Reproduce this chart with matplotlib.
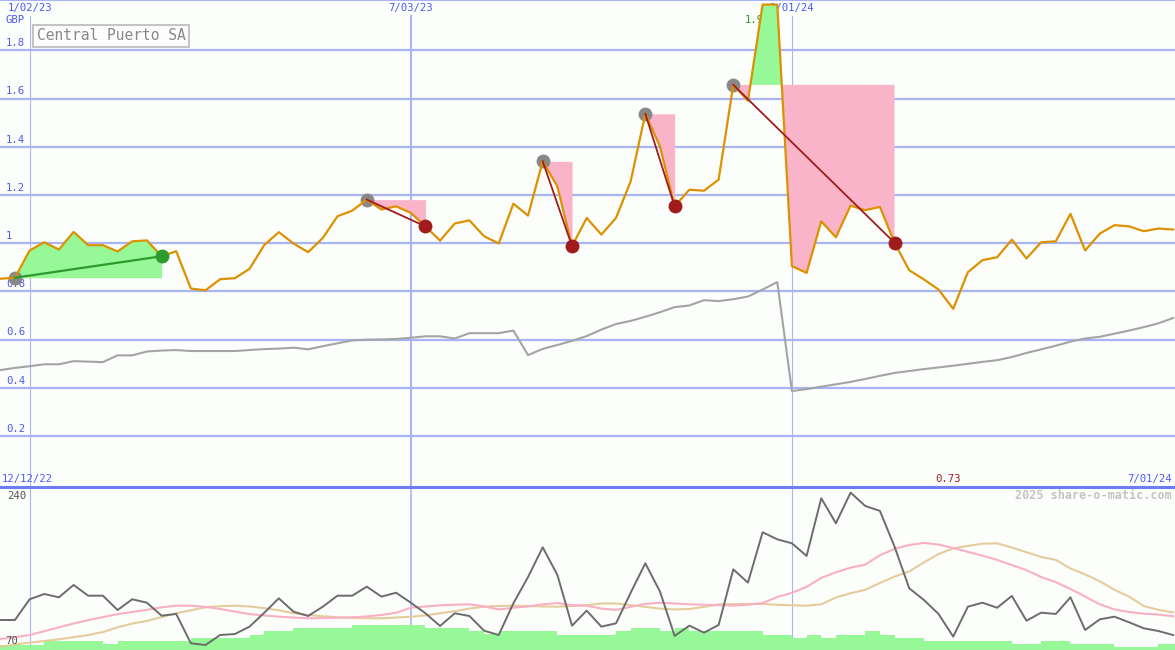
import numpy as np
import matplotlib.pyplot as plt

plt.rcParams['font.family'] = ['DejaVu Sans Mono']

# weekly data, index 0 = 12/19/22 ... index 80 = 7/01/24
price = [0.853, 0.857, 0.970, 1.004, 0.974, 1.047, 0.992, 0.992, 0.966, 1.008,
         1.012, 0.946, 0.967, 0.812, 0.805, 0.851, 0.855, 0.894, 0.992, 1.046,
         0.999, 0.963, 1.022, 1.112, 1.135, 1.181, 1.140, 1.153, 1.126, 1.070,
         1.011, 1.082, 1.095, 1.029, 0.999, 1.164, 1.115, 1.340, 1.236, 0.988,
         1.105, 1.036, 1.105, 1.257, 1.537, 1.402, 1.153, 1.222, 1.218, 1.264,
         1.657, 1.591, 1.990, 1.990, 0.905, 0.877, 1.091, 1.025, 1.156, 1.137,
         1.151, 1.002, 0.888, 0.850, 0.808, 0.728, 0.880, 0.930, 0.942, 1.015,
         0.937, 1.004, 1.008, 1.122, 0.970, 1.040, 1.075, 1.070, 1.050, 1.061,
         1.057]

relative = [0.474, 0.483, 0.490, 0.498, 0.498, 0.511, 0.509, 0.507, 0.535, 0.535,
            0.551, 0.555, 0.557, 0.553, 0.553, 0.553, 0.553, 0.557, 0.561, 0.563,
            0.567, 0.560, 0.573, 0.585, 0.597, 0.600, 0.601, 0.603, 0.608, 0.614,
            0.614, 0.605, 0.627, 0.627, 0.627, 0.638, 0.536, 0.562, 0.578, 0.595,
            0.615, 0.642, 0.665, 0.678, 0.695, 0.714, 0.735, 0.742, 0.764, 0.760,
            0.768, 0.779, 0.808, 0.839, 0.387, 0.395, 0.405, 0.415, 0.425, 0.437,
            0.450, 0.462, 0.470, 0.478, 0.485, 0.492, 0.500, 0.508, 0.515, 0.528,
            0.545, 0.560, 0.575, 0.592, 0.605, 0.612, 0.625, 0.638, 0.652, 0.668,
            0.690]

volume = [94.6, 94.6, 118.9, 125.1, 121.2, 135.7, 123.1, 123.1, 106.3, 118.9,
          114.9, 99.7, 101.7, 67.3, 65.3, 77.0, 78.2, 86.8, 103.0, 120.0,
          104.4, 99.3, 110.2, 123.1, 123.1, 133.7, 122.0, 126.6, 114.9, 102.5,
          87.6, 102.5, 99.3, 82.1, 77.0, 114.2, 145.0, 179.8, 147.4, 88.0,
          105.6, 86.8, 90.7, 126.6, 161.1, 127.9, 75.9, 88.0, 79.8, 88.8,
          154.0, 138.4, 197.4, 189.2, 184.5, 169.7, 237.3, 208.0, 243.9, 228.3,
          222.5, 180.6, 131.8, 118.1, 101.7, 75.1, 110.2, 114.9, 109.0, 122.8,
          93.8, 103.2, 101.7, 121.2, 82.9, 95.4, 98.5, 91.9, 84.9, 81.7,
          77.0]

ma_short = [72.3, 74.5, 77.0, 81.5, 86.0, 90.5, 94.5, 98.0, 101.5, 104.0,
            106.5, 109.5, 111.4, 111.4, 110.0, 107.5, 104.5, 101.5, 100.0, 98.5,
            97.5, 96.6, 96.8, 97.3, 97.8, 98.8, 100.5, 103.0, 109.0, 110.5,
            111.8, 112.5, 113.0, 110.5, 107.0, 109.0, 110.5, 113.0, 114.5, 112.0,
            111.4, 108.0, 106.5, 110.0, 113.5, 114.8, 114.0, 113.0, 112.5, 112.0,
            111.5, 112.5, 114.5, 121.5, 126.5, 133.5, 144.0, 150.5, 156.0, 159.5,
            170.5, 178.0, 182.5, 185.0, 183.0, 179.0, 174.5, 170.0, 165.0, 159.0,
            153.0, 145.0, 139.0, 131.0, 122.0, 113.0, 107.0, 104.0, 102.0, 101.0,
            99.0]

ma_long = [63.4, 66.0, 68.0, 70.0, 72.0, 74.5, 77.0, 80.5, 86.0, 90.5,
           93.5, 98.0, 102.5, 106.0, 109.5, 110.8, 111.4, 110.5, 108.5, 106.0,
           102.5, 100.5, 99.0, 97.8, 97.0, 96.7, 96.6, 97.5, 98.5, 100.0,
           102.5, 105.0, 108.0, 110.2, 111.0, 111.4, 111.0, 110.5, 110.2, 111.0,
           112.0, 114.0, 114.0, 112.0, 110.0, 108.0, 107.0, 107.5, 110.0, 113.0,
           113.2, 113.4, 113.4, 112.5, 111.8, 111.4, 113.0, 121.0, 126.0, 130.0,
           138.0, 145.5, 151.5, 162.0, 172.0, 178.5, 181.5, 184.0, 184.5, 179.5,
           174.0, 168.5, 165.0, 155.0, 148.0, 140.0, 130.0, 122.0, 111.0, 106.5,
           103.5]

bars = [65.3, 65.3, 65.3, 70.0, 70.0, 70.0, 70.0, 66.5, 70.0, 70.0,
        70.0, 70.0, 70.0, 73.2, 73.2, 73.2, 73.2, 77.0, 81.7, 81.7,
        84.9, 84.9, 84.9, 84.9, 88.8, 88.8, 88.8, 88.8, 88.8, 84.9,
        84.9, 84.9, 81.7, 78.2, 81.7, 81.7, 81.7, 81.7, 77.0, 77.0,
        77.0, 77.0, 81.7, 84.9, 84.9, 81.7, 84.9, 81.7, 81.7, 81.7,
        81.7, 81.7, 77.0, 77.0, 73.2, 77.0, 73.2, 77.0, 77.0, 81.7,
        77.0, 73.2, 73.2, 70.0, 70.0, 70.0, 70.0, 70.0, 70.0, 66.5,
        66.5, 70.0, 70.0, 66.5, 66.5, 66.5, 63.3, 63.3, 63.3, 66.5,
        66.5]

trade_entry = [1, 25, 37, 44, 50]
trade_exit = [11, 29, 39, 46, 61]

date_idx = [2, 28, 54]
date_labels = ['1/02/23', '7/03/23', '1/01/24']
price_ticks = [0.2, 0.4, 0.6, 0.8, 1.0, 1.2, 1.4, 1.6, 1.8]
price_tick_labels = ['0.2', '0.4', '0.6', '0.8', '1', '1.2', '1.4', '1.6', '1.8']

weeks = np.arange(len(price))
price = np.array(price)

bg = '#fcfefc'
grid_col = '#a8b4f4'
lab_col = '#4b5cf0'
W, H = 1175, 650
fig = plt.figure(figsize=(W / 100, H / 100), dpi=100, facecolor=bg)
ax = fig.add_axes([0, 163 / H, 1, 487 / H], facecolor=bg)
ax2 = fig.add_axes([0, 0, 1, 163 / H], facecolor=bg)

xlim = (-0.02, 80.13)
for a in (ax, ax2):
    a.set_xlim(*xlim)
    a.set_xticks([])
    a.set_yticks([])
    for s in a.spines.values():
        s.set_visible(False)

# ---- upper panel ----
ax.set_ylim(-0.011, 2.009)
ax.axhline(2.009, color=grid_col, lw=1.5, zorder=1)
for v, lab in zip(price_ticks, price_tick_labels):
    ax.axhline(v, color=grid_col, lw=1.6, zorder=1)
    ax.text(6 / W, v + 0.03, lab, transform=ax.get_yaxis_transform(),
            fontsize=7.7, color=lab_col, ha='left', va='center', zorder=2)
ax.text(5 / W, 1.926, 'GBP', transform=ax.get_yaxis_transform(),
        fontsize=7.7, color=lab_col, ha='left', va='center')
for i, (d, lab) in enumerate(zip(date_idx, date_labels)):
    ax.axvline(d, ymin=0, ymax=(487 - 16) / 487, color=grid_col,
               lw=1.5 if i == 1 else 0.8, zorder=1)
    ax.text(d, 1.974, lab, fontsize=7.7, color=lab_col, ha='center', va='center')

ax.plot(weeks, relative, color='#a4a4a4', lw=1.5, zorder=3)

imax = int(np.argmax(price))
imin = int(np.argmin(price))
ax.text(imax - 1.25, 1.926, f'{price[imax]:.2f}', fontsize=7.7, color='#289828',
        ha='left', va='center', zorder=2)

for e, x in zip(trade_entry, trade_exit):
    xs = weeks[e:x + 1]
    ps = price[e:x + 1]
    ax.fill_between(xs, price[e], ps, where=ps <= price[e], interpolate=True,
                    color='#fab4ca', lw=0, zorder=3)
    ax.fill_between(xs, price[e], ps, where=ps >= price[e], interpolate=True,
                    color='#96f896', lw=0, zorder=3)
    ax.plot(e, price[e], 'o', ms=10, color='#888888', mec='none', zorder=3.5)

ax.plot(weeks, price, color='#dc9200', lw=1.6, zorder=4)

for e, x in zip(trade_entry, trade_exit):
    win = price[x] > price[e]
    c = '#2e9a2e' if win else '#a01c1c'
    ax.plot([e, x], [price[e], price[x]], color=c, lw=1.6 if win else 1.3, zorder=5)
    ax.plot(x, price[x], 'o', ms=10, color=c, mec='none', zorder=5)

ax.text(37 / W, 1 - 36 / 487, 'Central Puerto SA', transform=ax.transAxes,
        fontsize=10.5, color='#888888', ha='left', va='center', zorder=6,
        bbox=dict(boxstyle='square,pad=0.25', fc=bg, ec='#c4c4c4', lw=1.5))

ax.text(2 / W, 0.0215, '12/12/22', transform=ax.get_yaxis_transform(),
        fontsize=7.7, color=lab_col, ha='left', va='center')
ax.text(1172 / W, 0.0215, '7/01/24', transform=ax.get_yaxis_transform(),
        fontsize=7.7, color=lab_col, ha='right', va='center')
ax.text(imin - 0.35, 0.0215, f'{price[imin]:.2f}', fontsize=7.7, color='#a01c1c',
        ha='center', va='center')

# ---- lower panel ----
ax2.set_ylim(59.45, 250.5)
ax2.axhline(250.5, color='#6e7ef0', lw=2.2, zorder=6, clip_on=False)
for i, d in enumerate(date_idx):
    ax2.axvline(d, color=grid_col, lw=1.2 if i == 1 else 0.8, zorder=1)
ax2.bar(weeks, np.array(bars) - 59.45, bottom=59.45, width=1.0, align='edge',
        color='#96f896', lw=0, zorder=2)
ax2.plot(weeks, ma_long, color='#e4cc9c', lw=1.5, zorder=3)
ax2.plot(weeks, ma_short, color='#f8b0c4', lw=1.5, zorder=3)
ax2.plot(weeks, volume, color='#6c6c6c', lw=1.4, zorder=4)
ax2.text(7 / W, 240, '240', transform=ax2.get_yaxis_transform(),
         fontsize=7.7, color='#555555', ha='left', va='center')
ax2.text(5 / W, 70, '70', transform=ax2.get_yaxis_transform(),
         fontsize=7.7, color='#555555', ha='left', va='center', zorder=5)
ax2.text(1172 / W, 240, '2025 share-o-matic.com', transform=ax2.get_yaxis_transform(),
         fontsize=8.5, color='#c4c4c4', ha='right', va='center', fontweight='bold')

fig.savefig('out.png', dpi=100, facecolor=bg)
